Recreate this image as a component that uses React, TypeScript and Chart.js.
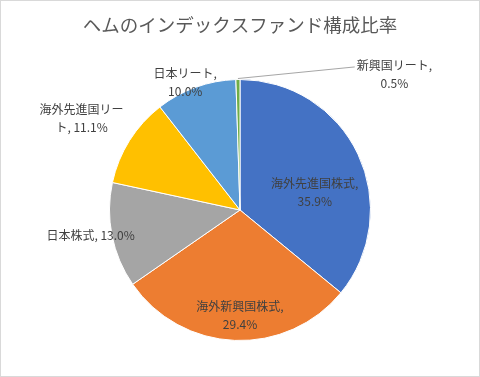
import React, { useEffect, useRef } from "react";
import { Chart, registerables } from "chart.js";

Chart.register(...registerables);

const TITLE = "ヘムのインデックスファンド構成比率";
const categories = ["海外先進国株式", "海外新興国株式", "日本株式", "海外先進国リート", "日本リート", "新興国リート"];
const values = [35.9, 29.4, 13.0, 11.1, 10.0, 0.5];
const valueLabels = ["35.9%", "29.4%", "13.0%", "11.1%", "10.0%", "0.5%"];
const colors = ["#4472C4", "#ED7D31", "#A5A5A5", "#FFC000", "#5B9BD5", "#70AD47"];

// label lines per slice and label centre offsets (in units of radius, relative to pie centre)
const labelLines: string[][] = [
  [categories[0] + ",", valueLabels[0]],
  [categories[1] + ",", valueLabels[1]],
  [categories[2] + ", " + valueLabels[2]],
  ["海外先進国リー", "ト, " + valueLabels[3]],
  [categories[4] + ",", valueLabels[4]],
  [categories[5] + ",", valueLabels[5]],
];
const labelOffsets: [number, number][] = [
  [0.573, -0.137],
  [0.0, 0.81],
  [-1.145, 0.198],
  [-1.214, -0.7],
  [-0.42, -0.975],
  [1.183, -1.035],
];

const FONT = '"Noto Sans CJK JP", "Noto Sans", sans-serif';

const decorPlugin = {
  id: "decor",
  beforeDraw(chart: any) {
    const ctx = chart.ctx;
    ctx.save();
    ctx.fillStyle = "#ffffff";
    ctx.fillRect(0, 0, chart.width, chart.height);
    ctx.strokeStyle = "#D9D9D9";
    ctx.lineWidth = 1;
    ctx.strokeRect(0.5, 0.5, chart.width - 1, chart.height - 1);
    ctx.fillStyle = "#595959";
    ctx.font = `18.5px ${FONT}`;
    ctx.textAlign = "center";
    ctx.textBaseline = "middle";
    ctx.fillText(TITLE, chart.width / 2, 25);
    ctx.restore();
  },
  afterDatasetsDraw(chart: any) {
    const ctx = chart.ctx;
    const meta = chart.getDatasetMeta(0);
    ctx.save();
    ctx.font = `12px ${FONT}`;
    ctx.textAlign = "center";
    ctx.textBaseline = "middle";
    meta.data.forEach((arc: any, i: number) => {
      const p = arc.getProps(["x", "y", "outerRadius", "startAngle", "endAngle"], true);
      const R = p.outerRadius;
      const lx = p.x + labelOffsets[i][0] * R;
      const ly = p.y + labelOffsets[i][1] * R;
      const lines = labelLines[i];
      const lh = 18;
      const y0 = ly - ((lines.length - 1) * lh) / 2;
      ctx.fillStyle = "#404040";
      lines.forEach((t, k) => ctx.fillText(t, lx, y0 + k * lh));
      if (i === 5) {
        const mid = (p.startAngle + p.endAngle) / 2;
        const sx = p.x + Math.cos(mid) * R;
        const sy = p.y + Math.sin(mid) * R;
        const w = ctx.measureText(lines[0]).width;
        ctx.strokeStyle = "#A6A6A6";
        ctx.lineWidth = 1;
        ctx.beginPath();
        ctx.moveTo(sx, sy - 1);
        ctx.lineTo(lx - w / 2 - 2, y0 + 1);
        ctx.stroke();
      }
    });
    ctx.restore();
  },
};

export default function App() {
  const ref = useRef<HTMLCanvasElement>(null);
  useEffect(() => {
    document.body.style.margin = "0";
    const chart = new Chart(ref.current!, {
      type: "pie",
      data: {
        labels: categories,
        datasets: [
          {
            data: values,
            backgroundColor: colors,
            borderColor: "#ffffff",
            borderWidth: 1,
          },
        ],
      },
      options: {
        responsive: false,
        animation: false,
        layout: { padding: { left: 109, right: 109, top: 78, bottom: 35 } },
        plugins: {
          legend: { display: false },
          title: { display: false },
          tooltip: { enabled: false },
        },
      },
      plugins: [decorPlugin],
    });
    return () => chart.destroy();
  }, []);
  return <canvas ref={ref} width={480} height={377} style={{ display: "block" }} />;
}
